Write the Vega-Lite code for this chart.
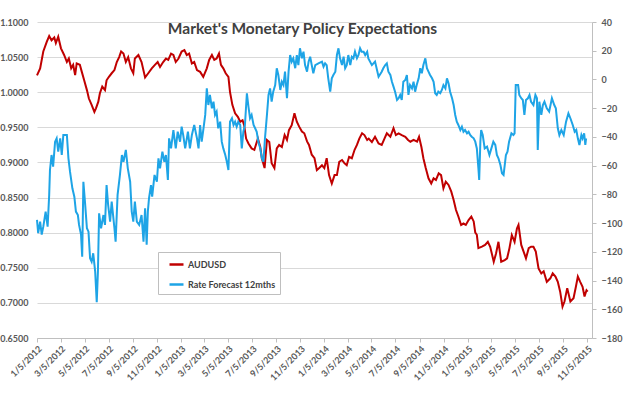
{
 "$schema": "https://vega.github.io/schema/vega-lite/v6.json",
 "width": 555,
 "height": 316,
 "autosize": {"type": "none"},
 "padding": {"left": 37, "top": 22, "right": 31, "bottom": 55},
 "background": "white",
 "title": {"text": "Market's Monetary Policy Expectations", "font": "Lato", "fontSize": 15.5, "fontWeight": "bold", "color": "#404040", "anchor": "middle", "frame": "group", "offset": -19, "dx": -12},
 "config": {
  "view": {"stroke": null},
  "font": "Lato",
  "axis": {"labelFont": "Lato", "labelFontSize": 9, "labelFontWeight": "bold", "labelColor": "#595959", "title": null},
  "axisX": {"labelOverlap": false, "labelFlush": false, "labelBound": false}
 },
 "datasets": {
  "aud": [
{"d":"2012-01-05","v":1.024},{"d":"2012-01-13","v":1.034},{"d":"2012-01-21","v":1.058},{"d":"2012-01-30","v":1.072},{"d":"2012-02-05","v":1.080},{"d":"2012-02-11","v":1.074},{"d":"2012-02-18","v":1.078},{"d":"2012-02-22","v":1.070},{"d":"2012-02-28","v":1.079},{"d":"2012-03-06","v":1.0625},{"d":"2012-03-14","v":1.053},{"d":"2012-03-21","v":1.043},{"d":"2012-03-26","v":1.048},{"d":"2012-04-01","v":1.034},{"d":"2012-04-06","v":1.039},{"d":"2012-04-11","v":1.0245},{"d":"2012-04-15","v":1.041},{"d":"2012-04-23","v":1.039},{"d":"2012-04-28","v":1.029},{"d":"2012-05-04","v":1.017},{"d":"2012-05-11","v":1.003},{"d":"2012-05-16","v":0.991},{"d":"2012-05-23","v":0.982},{"d":"2012-05-30","v":0.972},{"d":"2012-06-03","v":0.977},{"d":"2012-06-09","v":0.9865},{"d":"2012-06-13","v":0.9985},{"d":"2012-06-19","v":1.008},{"d":"2012-06-26","v":1.003},{"d":"2012-06-30","v":1.017},{"d":"2012-07-06","v":1.022},{"d":"2012-07-13","v":1.027},{"d":"2012-07-20","v":1.0315},{"d":"2012-07-26","v":1.043},{"d":"2012-08-01","v":1.050},{"d":"2012-08-06","v":1.058},{"d":"2012-08-12","v":1.055},{"d":"2012-08-18","v":1.043},{"d":"2012-08-24","v":1.050},{"d":"2012-08-31","v":1.034},{"d":"2012-09-06","v":1.027},{"d":"2012-09-10","v":1.048},{"d":"2012-09-19","v":1.053},{"d":"2012-09-27","v":1.043},{"d":"2012-10-06","v":1.021},{"d":"2012-10-14","v":1.027},{"d":"2012-10-23","v":1.034},{"d":"2012-10-31","v":1.039},{"d":"2012-11-07","v":1.043},{"d":"2012-11-13","v":1.036},{"d":"2012-11-21","v":1.043},{"d":"2012-11-28","v":1.048},{"d":"2012-12-04","v":1.046},{"d":"2012-12-11","v":1.055},{"d":"2012-12-17","v":1.053},{"d":"2012-12-23","v":1.043},{"d":"2012-12-30","v":1.048},{"d":"2013-01-07","v":1.058},{"d":"2013-01-14","v":1.060},{"d":"2013-01-20","v":1.053},{"d":"2013-01-26","v":1.055},{"d":"2013-02-02","v":1.041},{"d":"2013-02-08","v":1.043},{"d":"2013-02-15","v":1.0315},{"d":"2013-02-23","v":1.029},{"d":"2013-03-03","v":1.022},{"d":"2013-03-12","v":1.034},{"d":"2013-03-18","v":1.046},{"d":"2013-03-25","v":1.053},{"d":"2013-03-31","v":1.046},{"d":"2013-04-06","v":1.048},{"d":"2013-04-12","v":1.055},{"d":"2013-04-17","v":1.039},{"d":"2013-04-23","v":1.034},{"d":"2013-04-29","v":1.027},{"d":"2013-05-06","v":1.022},{"d":"2013-05-10","v":1.0005},{"d":"2013-05-16","v":0.982},{"d":"2013-05-23","v":0.970},{"d":"2013-05-30","v":0.965},{"d":"2013-06-05","v":0.958},{"d":"2013-06-11","v":0.960},{"d":"2013-06-15","v":0.953},{"d":"2013-06-20","v":0.934},{"d":"2013-06-26","v":0.927},{"d":"2013-07-04","v":0.920},{"d":"2013-07-11","v":0.918},{"d":"2013-07-20","v":0.934},{"d":"2013-07-26","v":0.922},{"d":"2013-07-30","v":0.906},{"d":"2013-08-06","v":0.892},{"d":"2013-08-12","v":0.932},{"d":"2013-08-18","v":0.929},{"d":"2013-08-24","v":0.899},{"d":"2013-08-31","v":0.892},{"d":"2013-09-06","v":0.920},{"d":"2013-09-12","v":0.925},{"d":"2013-09-19","v":0.922},{"d":"2013-09-26","v":0.939},{"d":"2013-10-02","v":0.932},{"d":"2013-10-07","v":0.946},{"d":"2013-10-14","v":0.953},{"d":"2013-10-21","v":0.970},{"d":"2013-10-27","v":0.958},{"d":"2013-11-02","v":0.951},{"d":"2013-11-09","v":0.944},{"d":"2013-11-15","v":0.9415},{"d":"2013-11-22","v":0.930},{"d":"2013-11-27","v":0.925},{"d":"2013-12-04","v":0.911},{"d":"2013-12-11","v":0.906},{"d":"2013-12-17","v":0.889},{"d":"2013-12-23","v":0.892},{"d":"2013-12-30","v":0.896},{"d":"2014-01-05","v":0.892},{"d":"2014-01-11","v":0.906},{"d":"2014-01-17","v":0.882},{"d":"2014-01-24","v":0.870},{"d":"2014-01-31","v":0.882},{"d":"2014-02-06","v":0.882},{"d":"2014-02-12","v":0.901},{"d":"2014-02-19","v":0.9035},{"d":"2014-02-25","v":0.899},{"d":"2014-03-03","v":0.896},{"d":"2014-03-09","v":0.908},{"d":"2014-03-16","v":0.906},{"d":"2014-03-23","v":0.918},{"d":"2014-03-29","v":0.925},{"d":"2014-04-04","v":0.934},{"d":"2014-04-11","v":0.9415},{"d":"2014-04-17","v":0.939},{"d":"2014-04-24","v":0.932},{"d":"2014-04-28","v":0.934},{"d":"2014-05-06","v":0.929},{"d":"2014-05-14","v":0.9366},{"d":"2014-05-23","v":0.927},{"d":"2014-05-31","v":0.925},{"d":"2014-06-07","v":0.934},{"d":"2014-06-13","v":0.9415},{"d":"2014-06-22","v":0.9366},{"d":"2014-06-30","v":0.9487},{"d":"2014-07-06","v":0.939},{"d":"2014-07-13","v":0.9415},{"d":"2014-07-21","v":0.939},{"d":"2014-07-30","v":0.9366},{"d":"2014-08-06","v":0.932},{"d":"2014-08-12","v":0.9295},{"d":"2014-08-20","v":0.932},{"d":"2014-08-29","v":0.9295},{"d":"2014-09-03","v":0.9366},{"d":"2014-09-09","v":0.922},{"d":"2014-09-14","v":0.906},{"d":"2014-09-20","v":0.892},{"d":"2014-09-27","v":0.8774},{"d":"2014-10-04","v":0.870},{"d":"2014-10-10","v":0.8774},{"d":"2014-10-16","v":0.875},{"d":"2014-10-23","v":0.8845},{"d":"2014-10-29","v":0.882},{"d":"2014-11-04","v":0.863},{"d":"2014-11-10","v":0.8726},{"d":"2014-11-17","v":0.868},{"d":"2014-11-24","v":0.8584},{"d":"2014-11-30","v":0.8465},{"d":"2014-12-06","v":0.8323},{"d":"2014-12-12","v":0.823},{"d":"2014-12-19","v":0.811},{"d":"2014-12-25","v":0.813},{"d":"2014-12-31","v":0.811},{"d":"2015-01-07","v":0.818},{"d":"2015-01-14","v":0.823},{"d":"2015-01-20","v":0.816},{"d":"2015-01-24","v":0.800},{"d":"2015-01-28","v":0.797},{"d":"2015-02-01","v":0.778},{"d":"2015-02-10","v":0.780},{"d":"2015-02-18","v":0.7825},{"d":"2015-02-25","v":0.787},{"d":"2015-03-03","v":0.780},{"d":"2015-03-12","v":0.7587},{"d":"2015-03-18","v":0.7706},{"d":"2015-03-24","v":0.787},{"d":"2015-03-31","v":0.7587},{"d":"2015-04-09","v":0.761},{"d":"2015-04-15","v":0.7635},{"d":"2015-04-21","v":0.778},{"d":"2015-04-27","v":0.7967},{"d":"2015-05-04","v":0.787},{"d":"2015-05-10","v":0.806},{"d":"2015-05-14","v":0.811},{"d":"2015-05-21","v":0.7825},{"d":"2015-05-27","v":0.773},{"d":"2015-06-02","v":0.7635},{"d":"2015-06-09","v":0.778},{"d":"2015-06-15","v":0.780},{"d":"2015-06-21","v":0.780},{"d":"2015-06-27","v":0.773},{"d":"2015-07-04","v":0.749},{"d":"2015-07-11","v":0.742},{"d":"2015-07-17","v":0.745},{"d":"2015-07-25","v":0.730},{"d":"2015-08-03","v":0.735},{"d":"2015-08-09","v":0.742},{"d":"2015-08-16","v":0.7375},{"d":"2015-08-22","v":0.730},{"d":"2015-08-28","v":0.716},{"d":"2015-09-03","v":0.6946},{"d":"2015-09-08","v":0.702},{"d":"2015-09-15","v":0.721},{"d":"2015-09-23","v":0.702},{"d":"2015-10-01","v":0.7065},{"d":"2015-10-07","v":0.723},{"d":"2015-10-12","v":0.7375},{"d":"2015-10-18","v":0.730},{"d":"2015-10-24","v":0.723},{"d":"2015-10-29","v":0.709},{"d":"2015-11-03","v":0.718},{"d":"2015-11-06","v":0.716}
  ],
  "rate": [
{"d":"2012-01-05","v":-97.8},{"d":"2012-01-08","v":-107},{"d":"2012-01-13","v":-99},{"d":"2012-01-17","v":-108},{"d":"2012-01-21","v":-102.5},{"d":"2012-01-27","v":-92},{"d":"2012-02-01","v":-102.5},{"d":"2012-02-05","v":-80.4},{"d":"2012-02-07","v":-63},{"d":"2012-02-11","v":-52.6},{"d":"2012-02-15","v":-60.7},{"d":"2012-02-20","v":-43.3},{"d":"2012-02-24","v":-41},{"d":"2012-02-28","v":-50.3},{"d":"2012-03-04","v":-41},{"d":"2012-03-08","v":-52.6},{"d":"2012-03-12","v":-38.7},{"d":"2012-03-21","v":-38.7},{"d":"2012-03-25","v":-54.9},{"d":"2012-03-29","v":-64.2},{"d":"2012-04-04","v":-75.8},{"d":"2012-04-09","v":-81.6},{"d":"2012-04-13","v":-92},{"d":"2012-04-18","v":-94.4},{"d":"2012-04-21","v":-101.3},{"d":"2012-04-26","v":-108},{"d":"2012-04-29","v":-123.4},{"d":"2012-05-02","v":-71.2},{"d":"2012-05-06","v":-85.1},{"d":"2012-05-11","v":-103.6},{"d":"2012-05-15","v":-106},{"d":"2012-05-19","v":-124.5},{"d":"2012-05-23","v":-126.9},{"d":"2012-05-27","v":-121},{"d":"2012-06-01","v":-133.8},{"d":"2012-06-05","v":-155},{"d":"2012-06-08","v":-133.8},{"d":"2012-06-11","v":-93.2},{"d":"2012-06-16","v":-103.6},{"d":"2012-06-22","v":-94.4},{"d":"2012-06-26","v":-101.3},{"d":"2012-06-30","v":-73.5},{"d":"2012-07-04","v":-87.4},{"d":"2012-07-09","v":-99},{"d":"2012-07-13","v":-85.1},{"d":"2012-07-20","v":-103.6},{"d":"2012-07-23","v":-113},{"d":"2012-07-28","v":-80.4},{"d":"2012-08-03","v":-66.5},{"d":"2012-08-08","v":-52.6},{"d":"2012-08-12","v":-57.3},{"d":"2012-08-18","v":-49.1},{"d":"2012-08-23","v":-61.9},{"d":"2012-08-29","v":-71.2},{"d":"2012-09-02","v":-92},{"d":"2012-09-06","v":-99},{"d":"2012-09-10","v":-85.1},{"d":"2012-09-15","v":-99},{"d":"2012-09-21","v":-101.3},{"d":"2012-09-27","v":-94.4},{"d":"2012-10-02","v":-113},{"d":"2012-10-06","v":-89.7},{"d":"2012-10-10","v":-115},{"d":"2012-10-13","v":-92},{"d":"2012-10-16","v":-82.7},{"d":"2012-10-21","v":-73.5},{"d":"2012-10-24","v":-81.6},{"d":"2012-10-30","v":-66.5},{"d":"2012-11-05","v":-71.2},{"d":"2012-11-09","v":-54.9},{"d":"2012-11-13","v":-61.9},{"d":"2012-11-19","v":-50.3},{"d":"2012-11-24","v":-57.3},{"d":"2012-11-28","v":-52.6},{"d":"2012-12-03","v":-70},{"d":"2012-12-06","v":-41},{"d":"2012-12-11","v":-48},{"d":"2012-12-17","v":-35.2},{"d":"2012-12-23","v":-48},{"d":"2012-12-28","v":-36.4},{"d":"2013-01-03","v":-43.3},{"d":"2013-01-07","v":-32.9},{"d":"2013-01-11","v":-38.7},{"d":"2013-01-16","v":-48},{"d":"2013-01-23","v":-36.4},{"d":"2013-01-28","v":-48},{"d":"2013-02-02","v":-38.7},{"d":"2013-02-08","v":-31.7},{"d":"2013-02-15","v":-41},{"d":"2013-02-19","v":-48},{"d":"2013-02-23","v":-31.7},{"d":"2013-02-27","v":-43.3},{"d":"2013-03-03","v":-35.2},{"d":"2013-03-08","v":-24.7},{"d":"2013-03-12","v":-6.2},{"d":"2013-03-16","v":-17.8},{"d":"2013-03-20","v":-10.8},{"d":"2013-03-25","v":-20.1},{"d":"2013-03-29","v":-15.5},{"d":"2013-04-02","v":-24.7},{"d":"2013-04-06","v":-22.4},{"d":"2013-04-10","v":-34},{"d":"2013-04-15","v":-29.4},{"d":"2013-04-19","v":-43.3},{"d":"2013-04-23","v":-48},{"d":"2013-04-28","v":-52.6},{"d":"2013-05-02","v":-57.3},{"d":"2013-05-06","v":-63},{"d":"2013-05-10","v":-29.4},{"d":"2013-05-15","v":-27},{"d":"2013-05-19","v":-31.7},{"d":"2013-05-23","v":-29.4},{"d":"2013-05-27","v":-32.9},{"d":"2013-05-31","v":-29.4},{"d":"2013-06-05","v":-31.7},{"d":"2013-06-09","v":-48},{"d":"2013-06-13","v":-36.4},{"d":"2013-06-17","v":-31.7},{"d":"2013-06-22","v":-9.6},{"d":"2013-06-26","v":-19},{"d":"2013-06-30","v":-27},{"d":"2013-07-04","v":-24.7},{"d":"2013-07-09","v":-31.7},{"d":"2013-07-13","v":-34},{"d":"2013-07-17","v":-36.4},{"d":"2013-07-21","v":-43.3},{"d":"2013-07-26","v":-48},{"d":"2013-07-30","v":-54.9},{"d":"2013-08-03","v":-57.3},{"d":"2013-08-07","v":-41},{"d":"2013-08-12","v":-24.7},{"d":"2013-08-16","v":-10.8},{"d":"2013-08-20","v":-6.2},{"d":"2013-08-24","v":-15.5},{"d":"2013-08-28","v":-8.5},{"d":"2013-09-02","v":-3.9},{"d":"2013-09-06","v":7.8},{"d":"2013-09-10","v":3.1},{"d":"2013-09-15","v":-7.3},{"d":"2013-09-19","v":-1.6},{"d":"2013-09-23","v":-3.9},{"d":"2013-09-27","v":5.4},{"d":"2013-10-02","v":-13.1},{"d":"2013-10-06","v":5.4},{"d":"2013-10-10","v":17},{"d":"2013-10-14","v":12.4},{"d":"2013-10-18","v":14.7},{"d":"2013-10-23","v":7.8},{"d":"2013-10-27","v":17},{"d":"2013-10-31","v":10},{"d":"2013-11-04","v":21.7},{"d":"2013-11-09","v":14.7},{"d":"2013-11-13","v":19.3},{"d":"2013-11-17","v":10},{"d":"2013-11-22","v":5.4},{"d":"2013-11-26","v":12.4},{"d":"2013-11-30","v":15.8},{"d":"2013-12-04","v":10},{"d":"2013-12-08","v":4.3},{"d":"2013-12-13","v":10},{"d":"2013-12-21","v":11.2},{"d":"2013-12-30","v":12.4},{"d":"2014-01-03","v":8.9},{"d":"2014-01-07","v":11.2},{"d":"2014-01-11","v":10},{"d":"2014-01-15","v":0.8},{"d":"2014-01-20","v":-8.5},{"d":"2014-01-24","v":0.8},{"d":"2014-01-28","v":3.1},{"d":"2014-02-02","v":5.4},{"d":"2014-02-06","v":17},{"d":"2014-02-10","v":21.7},{"d":"2014-02-14","v":14.7},{"d":"2014-02-19","v":10},{"d":"2014-02-23","v":15.8},{"d":"2014-02-27","v":7.8},{"d":"2014-03-03","v":10},{"d":"2014-03-07","v":17},{"d":"2014-03-12","v":10},{"d":"2014-03-16","v":15.8},{"d":"2014-03-20","v":14.7},{"d":"2014-03-24","v":19.3},{"d":"2014-03-29","v":14.7},{"d":"2014-04-02","v":17},{"d":"2014-04-06","v":21.7},{"d":"2014-04-10","v":19.3},{"d":"2014-04-15","v":19.3},{"d":"2014-04-19","v":17},{"d":"2014-04-24","v":19.3},{"d":"2014-04-27","v":14.7},{"d":"2014-05-06","v":10},{"d":"2014-05-14","v":12.4},{"d":"2014-05-23","v":1.9},{"d":"2014-05-31","v":5.4},{"d":"2014-06-04","v":7.8},{"d":"2014-06-09","v":10},{"d":"2014-06-13","v":11.2},{"d":"2014-06-17","v":5.4},{"d":"2014-06-22","v":3.1},{"d":"2014-06-26","v":-1.6},{"d":"2014-06-30","v":-5},{"d":"2014-07-04","v":-8.5},{"d":"2014-07-09","v":-14.3},{"d":"2014-07-13","v":-13.1},{"d":"2014-07-17","v":-10.8},{"d":"2014-07-21","v":-14.3},{"d":"2014-07-25","v":-1.6},{"d":"2014-07-30","v":-0.4},{"d":"2014-08-03","v":3.1},{"d":"2014-08-07","v":-10.8},{"d":"2014-08-11","v":-3.9},{"d":"2014-08-16","v":-6.2},{"d":"2014-08-20","v":-1.6},{"d":"2014-08-24","v":-8.5},{"d":"2014-08-28","v":-3.9},{"d":"2014-09-02","v":0.8},{"d":"2014-09-06","v":7.8},{"d":"2014-09-10","v":4.3},{"d":"2014-09-14","v":10},{"d":"2014-09-19","v":14.7},{"d":"2014-09-23","v":7.8},{"d":"2014-09-27","v":5.4},{"d":"2014-10-01","v":3.1},{"d":"2014-10-06","v":0.8},{"d":"2014-10-10","v":-1.6},{"d":"2014-10-14","v":-9.6},{"d":"2014-10-18","v":-10.8},{"d":"2014-10-22","v":-8.5},{"d":"2014-10-27","v":-9.6},{"d":"2014-10-31","v":-7.3},{"d":"2014-11-04","v":-3.9},{"d":"2014-11-09","v":-6.2},{"d":"2014-11-13","v":0.8},{"d":"2014-11-17","v":-2.7},{"d":"2014-11-21","v":-8.5},{"d":"2014-11-26","v":-13.1},{"d":"2014-11-30","v":-17.8},{"d":"2014-12-04","v":-24.7},{"d":"2014-12-08","v":-29.4},{"d":"2014-12-12","v":-31.7},{"d":"2014-12-17","v":-35.2},{"d":"2014-12-21","v":-32.9},{"d":"2014-12-25","v":-36.4},{"d":"2014-12-29","v":-35.2},{"d":"2015-01-03","v":-37.5},{"d":"2015-01-07","v":-36.4},{"d":"2015-01-11","v":-38.7},{"d":"2015-01-15","v":-39.9},{"d":"2015-01-20","v":-41},{"d":"2015-01-24","v":-43.3},{"d":"2015-01-28","v":-48},{"d":"2015-02-01","v":-61.9},{"d":"2015-02-03","v":-70},{"d":"2015-02-06","v":-43.3},{"d":"2015-02-08","v":-35.2},{"d":"2015-02-12","v":-38.7},{"d":"2015-02-17","v":-48},{"d":"2015-02-23","v":-46.8},{"d":"2015-03-01","v":-52.6},{"d":"2015-03-06","v":-48},{"d":"2015-03-11","v":-43.3},{"d":"2015-03-16","v":-45.6},{"d":"2015-03-20","v":-52.6},{"d":"2015-03-24","v":-54.9},{"d":"2015-03-29","v":-59.6},{"d":"2015-04-02","v":-65.3},{"d":"2015-04-06","v":-66.5},{"d":"2015-04-09","v":-59.6},{"d":"2015-04-12","v":-52.6},{"d":"2015-04-16","v":-50.3},{"d":"2015-04-20","v":-43.3},{"d":"2015-04-26","v":-37.5},{"d":"2015-05-01","v":-38.7},{"d":"2015-05-04","v":-37.5},{"d":"2015-05-07","v":-3.9},{"d":"2015-05-13","v":-3.9},{"d":"2015-05-16","v":-10.8},{"d":"2015-05-21","v":-13.1},{"d":"2015-05-25","v":-14.3},{"d":"2015-05-29","v":-24.7},{"d":"2015-06-02","v":-14.3},{"d":"2015-06-07","v":-13.1},{"d":"2015-06-11","v":-10.8},{"d":"2015-06-15","v":-15.5},{"d":"2015-06-21","v":-17.8},{"d":"2015-06-26","v":-10.8},{"d":"2015-06-30","v":-13.1},{"d":"2015-07-02","v":-49.1},{"d":"2015-07-06","v":-15.5},{"d":"2015-07-11","v":-24.7},{"d":"2015-07-15","v":-17.8},{"d":"2015-07-19","v":-15.5},{"d":"2015-07-25","v":-20.1},{"d":"2015-07-31","v":-22.4},{"d":"2015-08-07","v":-13.1},{"d":"2015-08-13","v":-17.8},{"d":"2015-08-17","v":-20.1},{"d":"2015-08-22","v":-34},{"d":"2015-08-26","v":-38.7},{"d":"2015-08-31","v":-35.2},{"d":"2015-09-06","v":-38.7},{"d":"2015-09-12","v":-29.4},{"d":"2015-09-18","v":-23.6},{"d":"2015-09-23","v":-27},{"d":"2015-09-29","v":-31.7},{"d":"2015-10-04","v":-36.4},{"d":"2015-10-08","v":-35.2},{"d":"2015-10-12","v":-41},{"d":"2015-10-16","v":-45.6},{"d":"2015-10-21","v":-38.7},{"d":"2015-10-24","v":-41},{"d":"2015-10-28","v":-37.5},{"d":"2015-10-31","v":-45.6},{"d":"2015-11-02","v":-41}
  ]
 },
 "encoding": {
  "x": {"field": "d", "type": "temporal",
   "scale": {"type": "utc", "domain": [{"year": 2012, "month": 1, "date": 5, "utc": true}, {"year": 2015, "month": 11, "date": 17, "utc": true}]},
   "axis": {"title": null, "grid": false, "domainColor": "#BFBFBF", "tickColor": "#BFBFBF", "tickSize": 4, "labelAngle": -45, "labelAlign": "right", "labelBaseline": "top", "labelPadding": 2, "labelOverlap": false, "labelFlush": false, "labelBound": false,
    "labelExpr": "utcFormat(datum.value, '%-m/%-d/%Y')",
    "values": [
     {"year":2012,"month":1,"date":5,"utc":true},{"year":2012,"month":3,"date":5,"utc":true},{"year":2012,"month":5,"date":5,"utc":true},{"year":2012,"month":7,"date":5,"utc":true},{"year":2012,"month":9,"date":5,"utc":true},{"year":2012,"month":11,"date":5,"utc":true},
     {"year":2013,"month":1,"date":5,"utc":true},{"year":2013,"month":3,"date":5,"utc":true},{"year":2013,"month":5,"date":5,"utc":true},{"year":2013,"month":7,"date":5,"utc":true},{"year":2013,"month":9,"date":5,"utc":true},{"year":2013,"month":11,"date":5,"utc":true},
     {"year":2014,"month":1,"date":5,"utc":true},{"year":2014,"month":3,"date":5,"utc":true},{"year":2014,"month":5,"date":5,"utc":true},{"year":2014,"month":7,"date":5,"utc":true},{"year":2014,"month":9,"date":5,"utc":true},{"year":2014,"month":11,"date":5,"utc":true},
     {"year":2015,"month":1,"date":5,"utc":true},{"year":2015,"month":3,"date":5,"utc":true},{"year":2015,"month":5,"date":5,"utc":true},{"year":2015,"month":7,"date":5,"utc":true},{"year":2015,"month":9,"date":5,"utc":true},{"year":2015,"month":11,"date":5,"utc":true}
    ]}}
 },
 "layer": [
  {
   "data": {"name": "aud"},
   "mark": {"type": "line", "strokeWidth": 2},
   "encoding": {
    "y": {"field": "v", "type": "quantitative",
     "scale": {"domain": [0.65, 1.1], "nice": false, "zero": false},
     "axis": {"orient": "left", "title": null, "values": [0.65, 0.7, 0.75, 0.8, 0.85, 0.9, 0.95, 1.0, 1.05, 1.1], "format": ".4f", "grid": true, "gridColor": "#D9D9D9", "domain": false, "ticks": false, "tickSize": 0, "labelPadding": 9}},
    "color": {"datum": "AUDUSD", "type": "nominal",
     "scale": {"domain": ["AUDUSD", "Rate Forecast 12mths"], "range": ["#C00000", "#1EA4E6"]},
     "legend": {"orient": "none", "legendX": 121, "legendY": 230, "direction": "vertical", "title": null, "fillColor": "white", "strokeColor": "#BFBFBF", "padding": 4, "labelFont": "Lato", "labelFontSize": 9, "labelFontWeight": "bold", "labelColor": "#404040", "symbolType": "stroke", "symbolSize": 196, "symbolStrokeWidth": 2.5, "symbolOffset": 6, "rowPadding": 6, "labelOffset": 3}}
   }
  },
  {
   "data": {"name": "rate"},
   "mark": {"type": "line", "strokeWidth": 2},
   "encoding": {
    "y": {"field": "v", "type": "quantitative",
     "scale": {"domain": [-180, 40], "nice": false, "zero": false},
     "axis": {"orient": "right", "title": null, "values": [-180, -160, -140, -120, -100, -80, -60, -40, -20, 0, 20, 40], "format": "d", "grid": false, "domain": true, "domainColor": "#BFBFBF", "ticks": true, "tickColor": "#BFBFBF", "tickSize": 4, "labelPadding": 5}},
    "color": {"datum": "Rate Forecast 12mths", "type": "nominal"}
   }
  }
 ],
 "resolve": {"scale": {"y": "independent"}}
}
